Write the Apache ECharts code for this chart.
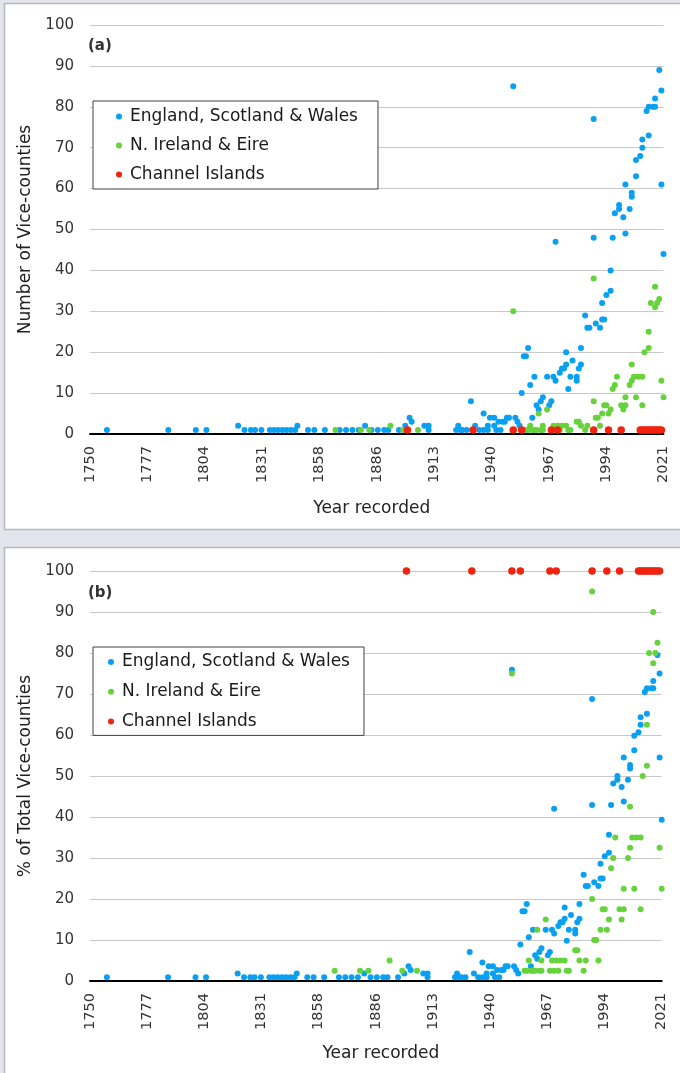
<!DOCTYPE html>
<html>
<head>
<meta charset="utf-8">
<script src="https://cdn.jsdelivr.net/npm/echarts@6/dist/echarts.min.js"></script>
<style>
  html, body { margin: 0; padding: 0; background: #e4e4ec; }
  #chart { width: 680px; height: 1073px; }
</style>
</head>
<body>
<div id="chart"></div>
<script>
// Series names and colours
const seriesNames = ['England, Scotland & Wales', 'N. Ireland & Eire', 'Channel Islands'];
const seriesColors = ['#0aa0f2', '#66d23c', '#f0230f'];

// x axis ticks (Excel major unit 27.1 years)
const xTickValues = [1750, 1777.1, 1804.2, 1831.3, 1858.4, 1885.5, 1912.6, 1939.7, 1966.8, 1993.9, 2021];
const xTickLabels = ['1750', '1777', '1804', '1831', '1858', '1886', '1913', '1940', '1967', '1994', '2021'];

// England, Scotland & Wales: year, number of vice-counties, % of 112
const eswYears = [1758,1787,1800,1805,1820,1823,1826,1828,1831,1835,
  1837,1839,1841,1843,1845,1847,1848,1853,1856,1861,
  1868,1871,1874,1877,1880,1883,1886,1889,1891,1896,
  1899,1901,1902,1908,1910,1910,1923,1924,1925,1926,
  1928,1930,1932,1934,1936,1936,1938,1938,1939,1941,
  1941,1942,1943,1944,1945,1946,1947,1948,1950,1951,
  1952,1953,1954,1955,1956,1957,1958,1959,1960,1961,
  1962,1963,1964,1966,1967,1968,1969,1970,1970,1972,
  1973,1974,1975,1975,1976,1977,1978,1980,1980,1981,
  1982,1982,1984,1985,1986,1988,1988,1989,1991,1992,
  1992,1993,1994,1996,1996,1997,1998,2000,2000,2002,
  2003,2003,2005,2006,2006,2008,2008,2010,2011,2011,
  2013,2014,2014,2016,2017,2017,2019,2020,2020,2021];
const eswCount = [1,1,1,1,2,1,1,1,1,1,
  1,1,1,1,1,1,2,1,1,1,
  1,1,1,1,2,1,1,1,1,1,
  2,4,3,2,2,1,1,2,1,1,
  1,8,2,1,5,1,1,2,4,4,
  2,1,3,1,3,3,4,4,85,4,
  3,2,10,19,19,21,12,4,14,7,
  6,8,9,14,7,8,14,13,47,15,
  16,16,20,17,11,14,18,13,14,16,
  17,21,29,26,26,77,48,27,26,28,
  32,28,34,35,40,48,54,56,55,53,
  49,61,55,59,58,63,67,68,72,70,
  79,73,80,80,80,82,89,84,61,44];
const eswPct = [0.9,0.9,0.9,0.9,1.8,0.9,0.9,0.9,0.9,0.9,
  0.9,0.9,0.9,0.9,0.9,0.9,1.8,0.9,0.9,0.9,
  0.9,0.9,0.9,0.9,1.8,0.9,0.9,0.9,0.9,0.9,
  1.8,3.6,2.7,1.8,1.8,0.9,0.9,1.8,0.9,0.9,
  0.9,7.1,1.8,0.9,4.5,0.9,0.9,1.8,3.6,3.6,
  1.8,0.9,2.7,0.9,2.7,2.7,3.6,3.6,75.9,3.6,
  2.7,1.8,8.9,17.0,17.0,18.8,10.7,3.6,12.5,6.3,
  5.4,7.1,8.0,12.5,6.3,7.1,12.5,11.6,42.0,13.4,
  14.3,14.3,17.9,15.2,9.8,12.5,16.1,11.6,12.5,14.3,
  15.2,18.8,25.9,23.2,23.2,68.8,42.9,24.1,23.2,25.0,
  28.6,25.0,30.4,31.3,35.7,42.9,48.2,50.0,49.1,47.3,
  43.8,54.5,49.1,52.7,51.8,56.3,59.8,60.7,64.3,62.5,
  70.5,65.2,71.4,71.4,71.4,73.2,79.5,75.0,54.5,39.3];

// N. Ireland & Eire: year, number of vice-counties, % of 40
const irlYears = [1866,1878,1882,1892,1898,1905,1950,1956,1957,1958,
  1959,1960,1961,1962,1963,1964,1964,1966,1968,1969,
  1970,1971,1972,1973,1975,1976,1977,1980,1981,1982,
  1984,1985,1988,1988,1989,1990,1991,1992,1993,1994,
  1995,1996,1997,1998,1999,2001,2002,2003,2003,2005,
  2006,2006,2007,2008,2009,2011,2011,2012,2014,2014,
  2015,2017,2017,2018,2019,2020,2021];
const irlCount = [1,1,1,2,1,1,30,1,1,2,
  1,1,1,5,1,2,1,6,1,2,
  1,2,1,2,2,1,1,3,3,2,
  1,2,38,8,4,4,2,5,7,7,
  5,6,11,12,14,7,6,7,9,12,
  13,17,14,9,14,14,7,20,21,25,
  32,31,36,32,33,13,9];
const irlPct = [2.5,2.5,2.5,5,2.5,2.5,75,2.5,2.5,5,
  2.5,2.5,2.5,12.5,2.5,5,2.5,15,2.5,5,
  2.5,5,2.5,5,5,2.5,2.5,7.5,7.5,5,
  2.5,5,95,20,10,10,5,12.5,17.5,17.5,
  12.5,15,27.5,30,35,17.5,15,17.5,22.5,30,
  32.5,42.5,35,22.5,35,35,17.5,50,52.5,62.5,
  80,77.5,90,80,82.5,32.5,22.5];

// Channel Islands: year, number of vice-counties, % of 1
const ciYears = [1900,1931,1950,1954,1968,1971,1988,1995,2001,2010,
  2011,2012,2013,2014,2015,2016,2017,2018,2019,2020];
const ciCount = [1,1,1,1,1,1,1,1,1,1,1,1,1,1,1,1,1,1,1,1];
const ciPct = [100,100,100,100,100,100,100,100,100,100,100,100,100,100,100,100,100,100,100,100];

const FONT = 'DejaVu Sans';
const pairs = (xs, ys) => xs.map((x, i) => [x, ys[i]]);
const tickLabel = (v) => {
  let best = 0;
  xTickValues.forEach((t, i) => { if (Math.abs(t - v) < Math.abs(xTickValues[best] - v)) best = i; });
  return xTickLabels[best];
};

const chart = echarts.init(document.getElementById('chart'), null, { renderer: 'canvas' });

const makeX = (gridIndex, nameGap, namePad) => ({
  type: 'value', gridIndex, min: 1750, max: 2021,
  splitLine: { show: false },
  axisTick: { show: false },
  axisLine: { lineStyle: { color: '#000', width: 2 } },
  axisLabel: {
    customValues: xTickValues, formatter: tickLabel,
    rotate: 90, margin: 12, fontSize: 14.5, fontFamily: FONT, color: '#333'
  },
  name: 'Year recorded', nameLocation: 'middle', nameGap,
  nameTextStyle: { fontSize: 17, fontFamily: FONT, color: '#222', padding: namePad }
});

const makeY = (gridIndex, name) => ({
  type: 'value', gridIndex, min: 0, max: 100, interval: 10,
  splitLine: { lineStyle: { color: '#c8c8c8', width: 1 } },
  axisLine: { show: false },
  axisTick: { show: false },
  axisLabel: { fontSize: 15, fontFamily: FONT, color: '#333', margin: 16 },
  name, nameLocation: 'middle', nameGap: 55,
  nameTextStyle: { fontSize: 17, fontFamily: FONT, color: '#222' }
});

const makeLegend = (left, top, padding, itemGap) => ({
  data: seriesNames, orient: 'vertical', left, top, padding, itemGap,
  itemWidth: 12, itemHeight: 6, icon: 'circle',
  borderColor: '#404040', borderWidth: 1, backgroundColor: '#fff',
  selectedMode: false,
  textStyle: { fontSize: 17, fontFamily: FONT, color: '#1a1a1a' }
});

const makeSeries = (idx, data, i) => ({
  name: seriesNames[i], type: 'scatter', xAxisIndex: idx, yAxisIndex: idx,
  data, symbolSize: i === 2 ? 7.5 : 6,
  itemStyle: { color: seriesColors[i], opacity: 1 },
  emphasis: { disabled: true }
});

const option = {
  animation: false,
  backgroundColor: '#e4e4ec',
  graphic: [
    { type: 'rect', z: -10, shape: { x: 4.5, y: 3.5, width: 700, height: 526 },
      style: { fill: '#fff', stroke: '#b8b8c0', lineWidth: 1.5 } },
    { type: 'rect', z: -10, shape: { x: 4.5, y: 547.5, width: 700, height: 600 },
      style: { fill: '#fff', stroke: '#b8b8c0', lineWidth: 1.5 } },
    { type: 'text', z: 10, x: 88, y: 46,
      style: { text: '(a)', font: 'bold 15px "DejaVu Sans"', fill: '#333', verticalAlign: 'middle' } },
    { type: 'text', z: 10, x: 88, y: 593,
      style: { text: '(b)', font: 'bold 15px "DejaVu Sans"', fill: '#333', verticalAlign: 'middle' } }
  ],
  grid: [
    { left: 90, right: 16.5, top: 25, height: 409 },
    { left: 90, right: 18.3, top: 571, height: 410 }
  ],
  legend: [
    makeLegend(93, 101, [7, 20, 6, 23], 12),
    makeLegend(93, 647, [6.5, 14, 5.5, 15], 12.7)
  ],
  xAxis: [makeX(0, 66, [0, 10, 0, 0]), makeX(1, 64, [0, 0, 0, 10])],
  yAxis: [makeY(0, 'Number of Vice-counties'), makeY(1, '% of Total Vice-counties')],
  series: [
    makeSeries(0, pairs(eswYears, eswCount), 0),
    makeSeries(0, pairs(irlYears, irlCount), 1),
    makeSeries(0, pairs(ciYears, ciCount), 2),
    makeSeries(1, pairs(eswYears, eswPct), 0),
    makeSeries(1, pairs(irlYears, irlPct), 1),
    makeSeries(1, pairs(ciYears, ciPct), 2)
  ]
};

chart.setOption(option);
</script>
</body>
</html>
